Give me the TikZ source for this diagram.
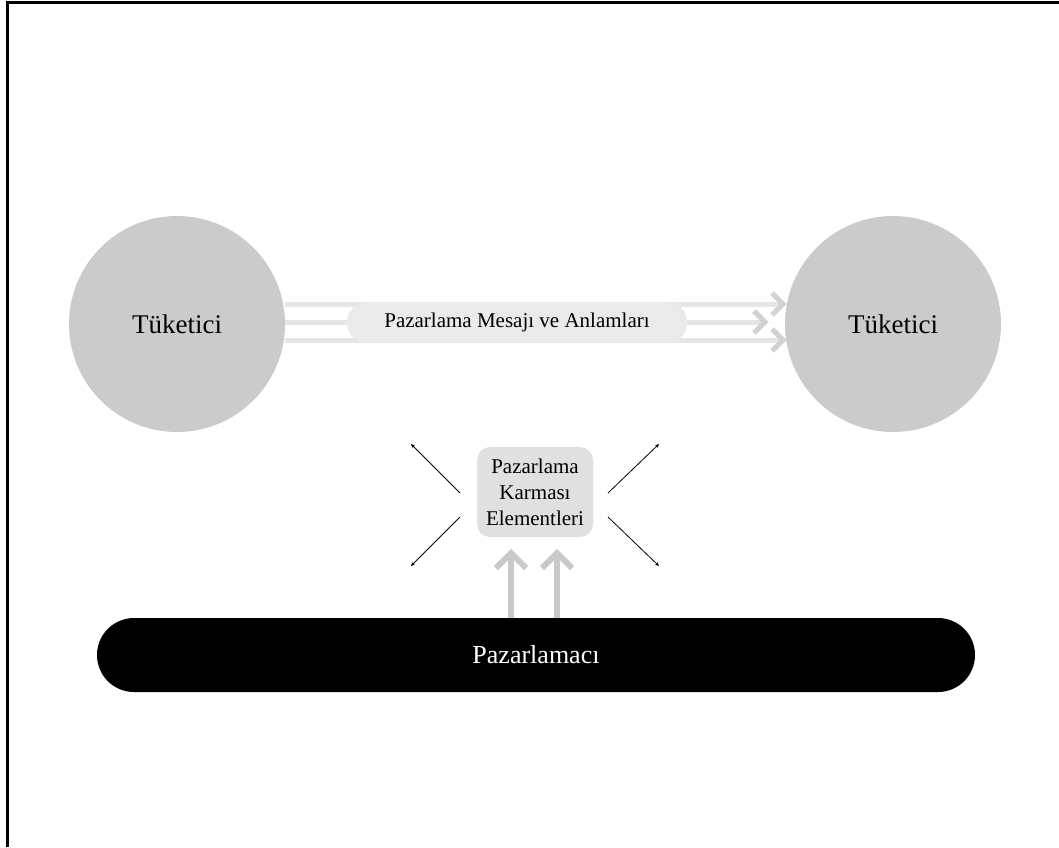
\documentclass[tikz,border=0pt]{standalone}
\usepackage{fontspec}
\setmainfont{Liberation Serif}
\usetikzlibrary{arrows.meta,calc}
\definecolor{circlegray}{HTML}{CBCBCB}
\definecolor{boxgray}{HTML}{E0E0E0}
\definecolor{pillgray}{HTML}{EAEAEA}
\definecolor{bandgray}{HTML}{E6E6E6}
\definecolor{headgray}{HTML}{D2D2D2}
\definecolor{upgray}{HTML}{C9C9C9}
\tikzset{
  consumer/.style={circle,fill=circlegray,minimum size=216pt,inner sep=0pt,font=\fontsize{27}{32}\selectfont},
  messagepill/.style={rounded corners=20pt,fill=pillgray,minimum width=340pt,minimum height=41pt,inner sep=0pt,font=\fontsize{21}{25}\selectfont},
  mixbox/.style={rounded corners=13pt,fill=boxgray,minimum width=116pt,minimum height=90pt,inner sep=0pt,align=center,font=\fontsize{21}{26}\selectfont},
  marketerbar/.style={rounded corners=37pt,fill=black,text=white,minimum width=878pt,minimum height=74pt,inner sep=0pt,font=\fontsize{26}{30}\selectfont},
  band/.style={draw=bandgray,line width=5pt},
  bandhead/.style={draw=headgray,line width=5pt,line cap=butt,line join=miter},
  upshaft/.style={draw=upgray,line width=6pt},
  uphead/.style={draw=upgray,line width=6pt,line join=miter},
  spread/.style={draw=black,line width=0.8pt,-{Stealth[length=4pt,width=3.5pt]}},
  frameline/.style={draw=black,line width=3pt}
}
\begin{document}
\begin{tikzpicture}[x=1pt,y=-1pt]
\useasboundingbox (0,0) rectangle (1059,847);
% outer frame: top and left edges
\draw[frameline] (7.5,847) -- (7.5,2.5) -- (1059,2.5);

% consumers
\node[consumer] (cl) at (177,324) {Tüketici};
\node[consumer] (cr) at (893,324) {Tüketici};

% message bands between the consumers
\coordinate (t1) at (783,304);
\coordinate (t2) at (765,322);
\coordinate (t3) at (783,340);
\draw[band] (cl.east |- t1) -- (t1);
\draw[band] (cl.east |- t2) -- (t2);
\draw[band] (cl.east |- t3) -- (t3);
\foreach \t in {t1,t2,t3}
  \draw[bandhead] ($(\t)+(-11,-11)$) -- (\t) -- ($(\t)+(-11,11)$);

\node[messagepill] (msg) at (517,322.5) {Pazarlama Mesajı ve Anlamları};

% marketing mix
\node[mixbox] (mix) at (535,492) {Pazarlama\\Karması\\Elementleri};

% marketer
\node[marketerbar] (mk) at (536,655) {Pazarlamacı};

% arrows from the marketer up to the mix
\coordinate (u1) at (511,553);
\coordinate (u2) at (557,553);
\foreach \u in {u1,u2}{
  \draw[upshaft] (mk.north -| \u) -- (\u);
  \draw[uphead] ($(\u)+(-15,15)$) -- (\u) -- ($(\u)+(15,15)$);
}

% spreading arrows around the mix
\coordinate (ul) at (411,444);
\coordinate (ur) at (659,444);
\coordinate (ll) at (411,566);
\coordinate (lr) at (659,566);
\draw[spread] (460,493) -- (ul);
\draw[spread] (608,493) -- (ur);
\draw[spread] (460,517) -- (ll);
\draw[spread] (608,517) -- (lr);
\end{tikzpicture}
\end{document}
